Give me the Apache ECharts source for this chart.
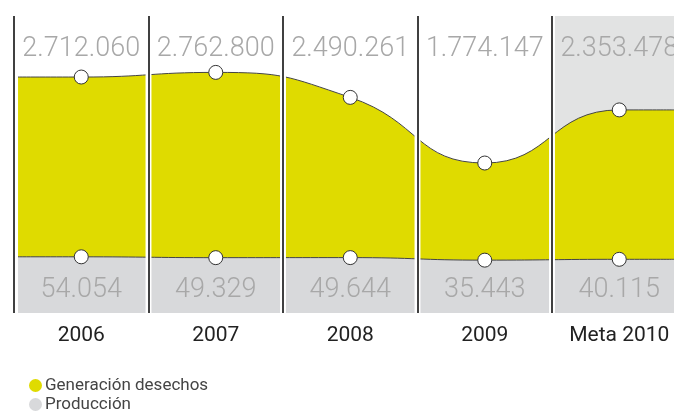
<!DOCTYPE html>
<html>
<head>
<meta charset="utf-8">
<script src="https://cdn.jsdelivr.net/npm/echarts@6/dist/echarts.min.js"></script>
<style>
  html, body { margin: 0; padding: 0; background: #fff; }
  #chart { width: 674px; height: 411px; }
</style>
</head>
<body>
<div id="chart"></div>
<script>
// datos
const years = ['2006', '2007', '2008', '2009', 'Meta 2010']
const desechos = [2712060, 2762800, 2490261, 1774147, 2353478]
const produccion = [54054, 49329, 49644, 35443, 40115]

const X_MIN = -0.5
const X_MAX = 4.407
const GAP = 0.022

const fmt = v => String(v).replace(/\B(?=(\d{3})+(?!\d))/g, '.')

// puntos + extension plana hasta los bordes
const buildLine = arr => [
    { value: [X_MIN, arr[0]], symbol: 'none' },
    ...arr.map((v, i) => [i, v]),
    { value: [X_MAX, arr[arr.length - 1]], symbol: 'none' }
]

const idx = years.map((_, i) => i)
const numFont = { fontFamily: 'Roboto', fontWeight: 300, fontSize: 27, color: '#a8a8a8' }

const chart = echarts.init(document.getElementById('chart'))

const options = {
    animation: false,
    grid: { top: 16, bottom: 98, left: 14, right: 0, outerBoundsMode: 'none', containLabel: false },
    legend: {
        orient: 'vertical',
        left: 24,
        top: 372,
        height: 60,
        itemGap: 2,
        itemWidth: 13,
        itemHeight: 13,
        icon: 'circle',
        textStyle: { fontFamily: 'Roboto', fontSize: 17, color: '#444', padding: [0, 0, 0, -2] },
        data: [
            { name: 'Generación desechos', itemStyle: { color: '#dfdb00', borderWidth: 0 } },
            { name: 'Producción', itemStyle: { color: '#d8d9db', borderWidth: 0 } }
        ]
    },
    xAxis: [
        {
            type: 'value', min: X_MIN, max: X_MAX, position: 'bottom', z: 20,
            splitLine: { show: false }, axisLine: { show: false }, axisTick: { show: false },
            axisLabel: {
                customValues: idx, margin: 12,
                fontFamily: 'Roboto', fontSize: 21, color: '#222',
                formatter: v => years[Math.round(v)]
            }
        },
        {
            type: 'value', min: X_MIN, max: X_MAX, position: 'bottom', z: 20,
            splitLine: { show: false }, axisLine: { show: false }, axisTick: { show: false },
            axisLabel: Object.assign({
                customValues: idx, inside: true, margin: 9,
                formatter: v => fmt(produccion[Math.round(v)])
            }, numFont)
        },
        {
            type: 'value', min: X_MIN, max: X_MAX, position: 'top', z: 20,
            splitLine: { show: false }, axisLine: { show: false }, axisTick: { show: false },
            axisLabel: Object.assign({
                customValues: idx, inside: true, margin: 20,
                formatter: v => fmt(desechos[Math.round(v)])
            }, numFont)
        }
    ],
    yAxis: [
        { type: 'value', show: false, min: 138000, max: 3378000, splitLine: { show: false } },
        { type: 'value', show: false, min: -260000, max: 1400000, splitLine: { show: false } }
    ],
    series: [
        // fondo gris de la meta
        {
            type: 'line', data: [], z: 1, silent: true,
            markArea: {
                silent: true,
                z: 1,
                itemStyle: { color: '#e2e3e3' },
                data: [[{ xAxis: years.length - 1.5 }, { xAxis: X_MAX }]]
            }
        },
        {
            name: 'Generación desechos',
            type: 'line',
            z: 2,
            smooth: 0.5,
            data: buildLine(desechos),
            symbol: 'circle',
            symbolSize: 14,
            lineStyle: { color: '#444', width: 1 },
            itemStyle: { color: '#fff', borderColor: '#333', borderWidth: 1 },
            areaStyle: { color: '#dfdb00', opacity: 1, origin: 'start' }
        },
        {
            name: 'Producción',
            type: 'line',
            z: 3,
            yAxisIndex: 1,
            smooth: 0.5,
            data: buildLine(produccion),
            symbol: 'circle',
            symbolSize: 14,
            lineStyle: { color: '#444', width: 1 },
            itemStyle: { color: '#fff', borderColor: '#333', borderWidth: 1 },
            areaStyle: { color: '#d8d9db', opacity: 1, origin: 'start' }
        },
        // separadores entre paneles
        {
            type: 'line', data: [], z: 10, silent: true,
            markArea: {
                silent: true,
                z: 8,
                itemStyle: { color: '#fff' },
                data: [[{ xAxis: X_MIN }, { xAxis: X_MIN + 0.03 }]].concat(
                    idx.slice(0, -1).map(i => [{ xAxis: i + 0.5 - GAP }, { xAxis: i + 0.5 + GAP }])
                )
            },
            markLine: {
                silent: true,
                z: 9,
                symbol: 'none',
                label: { show: false },
                lineStyle: { color: '#000', width: 1.5, type: 'solid' },
                data: idx.map(i => ({ xAxis: i - 0.5 }))
            }
        }
    ]
}
chart.setOption(options)
</script>
</body>
</html>
